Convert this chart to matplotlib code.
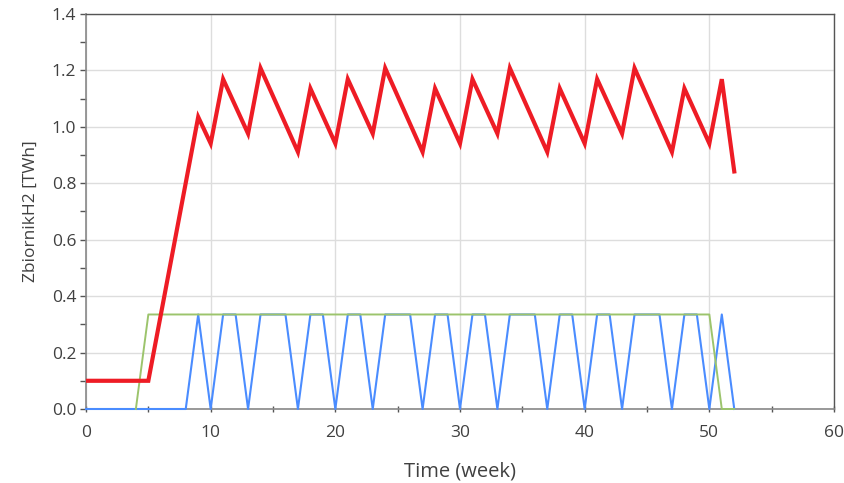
import matplotlib
matplotlib.use("Agg")
import matplotlib.pyplot as plt
from matplotlib.ticker import MultipleLocator, FormatStrFormatter

# Data (weeks, TWh)
red_weeks = [0, 5, 9, 10, 11, 13, 14, 17, 18, 20, 21, 23, 24, 27, 28, 30, 31, 33, 34,
             37, 38, 40, 41, 43, 44, 47, 48, 50, 51, 52]
red_vals = [0.10, 0.10, 1.035, 0.941, 1.169, 0.976, 1.208, 0.911, 1.136, 0.941, 1.169,
            0.976, 1.208, 0.911, 1.136, 0.941, 1.169, 0.976, 1.208, 0.911, 1.136, 0.941,
            1.169, 0.976, 1.208, 0.911, 1.136, 0.941, 1.169, 0.842]

blue_weeks = [0, 8, 9, 10, 11, 12, 13, 14, 16, 17, 18, 19, 20, 21, 22, 23, 24, 26, 27,
              28, 29, 30, 31, 32, 33, 34, 36, 37, 38, 39, 40, 41, 42, 43, 44, 46, 47,
              48, 49, 50, 51, 52]
blue_vals = [0, 0, 0.335, 0, 0.335, 0.335, 0, 0.335, 0.335, 0, 0.335, 0.335, 0, 0.335,
             0.335, 0, 0.335, 0.335, 0, 0.335, 0.335, 0, 0.335, 0.335, 0, 0.335, 0.335,
             0, 0.335, 0.335, 0, 0.335, 0.335, 0, 0.335, 0.335, 0, 0.335, 0.335, 0,
             0.335, 0]

green_weeks = [4, 5, 50, 51, 52]
green_vals = [0, 0.335, 0.335, 0, 0]

x_ticks = [0, 10, 20, 30, 40, 50, 60]

plt.rcParams['font.family'] = ['Open Sans', 'DejaVu Sans']

fig = plt.figure(figsize=(8.45, 4.83), dpi=100, facecolor='white')
ax = fig.add_axes([86/845, 1-409/483, (834-86)/845, (409-14)/483])

ax.plot(blue_weeks, blue_vals, color='#4a8cff', lw=1.5, zorder=3, clip_on=False)
ax.plot(green_weeks, green_vals, color='#9cc46c', lw=1.4, zorder=4, clip_on=False)
ax.plot(red_weeks, red_vals, color='#ee1c25', lw=3.0, zorder=5, solid_joinstyle='miter')

ax.set_xlim(0, 60)
ax.set_ylim(0, 1.4)
ax.set_xticks(x_ticks)
ax.xaxis.set_minor_locator(MultipleLocator(5))
ax.yaxis.set_major_locator(MultipleLocator(0.2))
ax.yaxis.set_minor_locator(MultipleLocator(0.1))
ax.yaxis.set_major_formatter(FormatStrFormatter('%.1f'))

ax.grid(True, which='major', color='#dddddd', lw=1.0, zorder=0)
ax.set_axisbelow(True)

for s in ['left', 'bottom']:
    ax.spines[s].set_color('#888888')
    ax.spines[s].set_linewidth(1.2)
for s in ['top', 'right']:
    ax.spines[s].set_color('#555555')
    ax.spines[s].set_linewidth(1.0)

ax.tick_params(axis='both', which='major', length=4, width=1, color='#555555',
               labelsize=12.5, labelcolor='#404040', direction='out')
ax.tick_params(axis='x', which='both', direction='inout', length=5, pad=9)
ax.tick_params(axis='y', which='major', pad=3)
ax.tick_params(axis='y', which='minor', length=4, width=1, color='#555555', direction='out')
ax.tick_params(axis='x', which='minor', length=5, width=1, color='#555555')

ax.set_xlabel('Time (week)', fontsize=14.5, color='#404040', labelpad=15)
ax.set_ylabel('ZbiornikH2 [TWh]', fontsize=12.5, color='#404040', labelpad=9)

fig.savefig('out.png', dpi=100, facecolor='white')
